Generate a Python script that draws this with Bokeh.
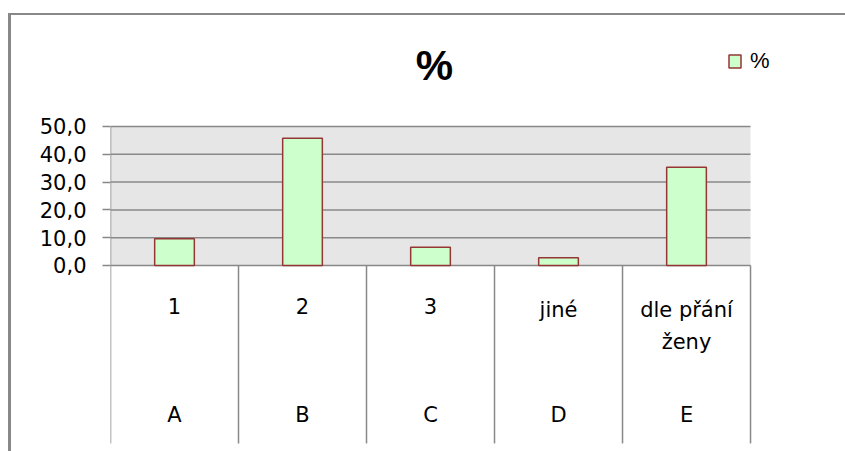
from bokeh.plotting import figure
from bokeh.models import (Range1d, FixedTicker, BoxAnnotation, Legend, LegendItem,
                          ColumnDataSource, Label, InlineStyleSheet)
from bokeh.core.properties import value
from bokeh.embed import file_html
from bokeh.resources import INLINE

# ---- data ----
top_labels = ["1", "2", "3", "jiné", "dle přání\nženy"]
group_labels = ["A", "B", "C", "D", "E"]
percent = [9.6, 45.8, 6.6, 2.8, 35.3]
y_ticks = [0, 10, 20, 30, 40, 50]
y_tick_labels = ["0,0", "10,0", "20,0", "30,0", "40,0", "50,0"]
series_name = "%"
title_text = "%"

n = len(percent)
xs = [i + 0.5 for i in range(n)]
y_top = y_ticks[-1]

# frame covers the chart area from the plot-area's left edge to the page edge
p = figure(width=845, height=451, output_backend="svg", toolbar_location=None,
           x_range=Range1d(0, 5.742), y_range=Range1d(-66.91, 95.32),
           x_axis_location=None, title_location=None,
           min_border_left=110, min_border_right=0,
           min_border_top=0, min_border_bottom=0, tools="")
p.background_fill_color = "white"
p.border_fill_color = "white"
p.outline_line_color = None

# outer chart border (left and top edges of the Excel chart area)
p.stylesheets = [InlineStyleSheet(css="""
:host::after {
  content: '';
  position: absolute;
  left: 8px; top: 13px; right: 0; bottom: 0;
  border-left: 3px solid #888888;
  border-top: 2px solid #888888;
  pointer-events: none;
}
""")]

# plot area background (0..50, across the categories)
p.add_layout(BoxAnnotation(left=0, right=n, bottom=0, top=y_top,
                           fill_color="#e6e6e6", fill_alpha=1,
                           line_color=None, level="image"))

# y axis
p.yaxis.ticker = FixedTicker(ticks=y_ticks)
p.yaxis.major_label_overrides = {t: l for t, l in zip(y_ticks, y_tick_labels)}
p.yaxis.axis_line_color = None
p.yaxis.major_tick_line_color = "#888888"
p.yaxis.major_tick_line_width = 1.5
p.yaxis.major_tick_out = 8
p.yaxis.major_tick_in = 0
p.yaxis.minor_tick_line_color = None
p.yaxis.major_label_text_font = "DejaVu Sans"
p.yaxis.major_label_text_font_size = "21px"
p.yaxis.major_label_text_color = "black"
p.yaxis.major_label_standoff = 16

p.xgrid.visible = False
p.ygrid.visible = False

# horizontal gridlines inside the plot area
p.segment(x0=[0] * len(y_ticks), y0=y_ticks, x1=[n] * len(y_ticks), y1=y_ticks,
          line_color="#888888", line_width=1.5)

# category separators
sep_x = list(range(n + 1))
sep_top = [y_top] + [0] * n
p.segment(x0=sep_x, y0=sep_top, x1=sep_x, y1=[-64] * (n + 1),
          line_color="#888888", line_width=1.5)

# bars
src = ColumnDataSource(dict(x=xs, top=percent))
bars = p.vbar(x="x", top="top", width=0.31, bottom=0, source=src,
              fill_color="#ccffcc", line_color="#943634", line_width=1.5)

# category labels
p.text(x=xs, y=[-11.87] * n, text=top_labels, text_align="center",
       text_baseline="top", text_font=value("DejaVu Sans"),
       text_font_size="21px", text_color="black", text_line_height=1.32)
p.text(x=xs, y=[-53.8] * n, text=group_labels, text_align="center",
       text_baseline="middle", text_font=value("DejaVu Sans"),
       text_font_size="21px", text_color="black")

# title
p.add_layout(Label(x=2.531, y=71.76, text=title_text, text_align="center",
                   text_baseline="middle", text_font="Liberation Sans",
                   text_font_size="42px", text_font_style="bold",
                   text_color="black"))

# legend
legend = Legend(items=[LegendItem(label=series_name, renderers=[bars])],
                location=(617, 377), orientation="vertical",
                border_line_color=None, background_fill_alpha=0,
                padding=0, margin=0, spacing=0,
                glyph_width=15, glyph_height=16, label_height=16,
                label_standoff=8, label_text_font="Liberation Sans",
                label_text_font_size="22px", label_text_color="black")
p.add_layout(legend)

open("out.html", "w").write(file_html(p, INLINE))
